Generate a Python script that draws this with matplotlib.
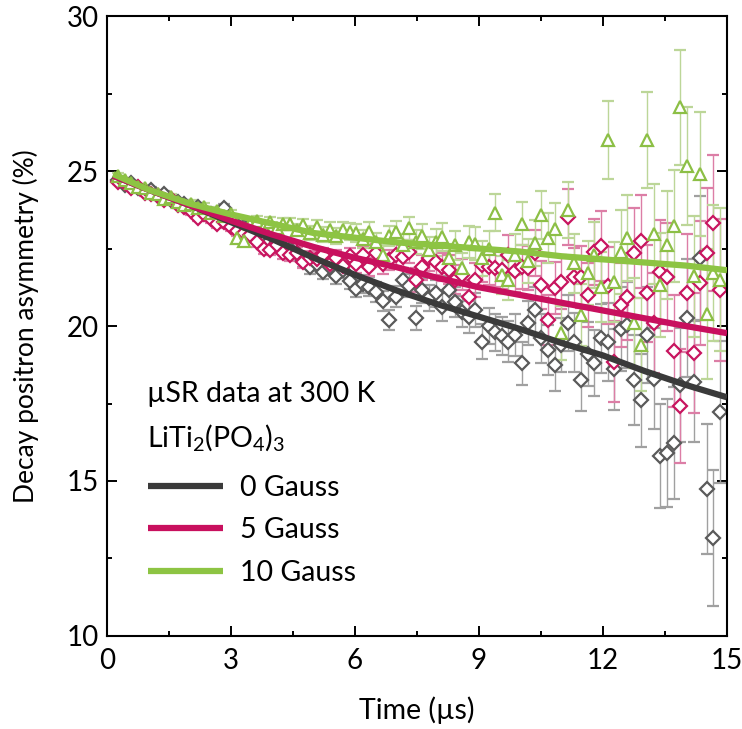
import matplotlib
matplotlib.use("Agg")
import matplotlib.pyplot as plt
from matplotlib.ticker import MultipleLocator

plt.rcParams['font.family'] = ['Lato', 'DejaVu Sans']
plt.rcParams['mathtext.fontset'] = 'custom'
plt.rcParams['mathtext.rm'] = 'Lato'
plt.rcParams['mathtext.it'] = 'Lato:italic'

# time bins (microseconds)
time_us = [0.27, 0.43, 0.59, 0.75, 0.91, 1.07, 1.23, 1.39, 1.55, 1.71,
           1.87, 2.03, 2.19, 2.35, 2.51, 2.67, 2.83, 2.99, 3.15, 3.31,
           3.47, 3.63, 3.79, 3.95, 4.11, 4.27, 4.43, 4.59, 4.75, 4.91,
           5.07, 5.23, 5.39, 5.55, 5.71, 5.87, 6.03, 6.19, 6.35, 6.51,
           6.67, 6.83, 6.99, 7.15, 7.31, 7.47, 7.63, 7.79, 7.95, 8.11,
           8.27, 8.43, 8.59, 8.75, 8.91, 9.07, 9.23, 9.39, 9.55, 9.71,
           9.87, 10.03, 10.19, 10.35, 10.51, 10.67, 10.83, 10.99, 11.15, 11.31,
           11.47, 11.63, 11.79, 11.95, 12.11, 12.27, 12.43, 12.59, 12.75, 12.91,
           13.07, 13.23, 13.39, 13.55, 13.71, 13.87, 14.03, 14.19, 14.35, 14.51,
           14.67, 14.83]

# asymmetry (%) for each field
asym_0G = [24.70, 24.55, 24.60, 24.45, 24.35, 24.40, 24.20, 24.25, 24.05, 24.00,
           23.95, 23.80, 23.85, 23.65, 23.60, 23.50, 23.80, 23.30, 23.25, 23.20,
           23.05, 22.95, 22.90, 22.75, 22.70, 22.55, 22.50, 22.35, 22.10, 21.90,
           22.00, 21.75, 21.90, 21.60, 21.80, 21.45, 21.20, 21.35, 21.27, 21.10,
           20.80, 20.20, 20.95, 21.50, 21.30, 20.25, 21.15, 20.90, 21.05, 20.60,
           21.15, 20.78, 20.46, 20.30, 20.52, 19.50, 20.00, 19.80, 19.68, 19.50,
           19.71, 18.80, 20.10, 20.52, 19.60, 19.23, 18.74, 19.40, 20.10, 19.48,
           18.26, 19.10, 18.80, 19.60, 19.48, 18.60, 19.90, 20.03, 18.26, 17.61,
           19.71, 18.30, 15.80, 15.90, 16.23, 18.10, 20.26, 18.20, 22.19, 14.74,
           13.16, 17.23]

asym_5G = [24.65, 24.60, 24.45, 24.50, 24.30, 24.25, 24.20, 24.05, 24.10, 23.90,
           23.85, 23.70, 23.50, 23.60, 23.45, 23.30, 23.35, 23.20, 23.05, 23.00,
           22.95, 22.70, 22.50, 22.45, 22.60, 22.35, 22.30, 22.35, 22.07, 22.20,
           22.15, 22.30, 22.00, 22.20, 21.95, 22.25, 22.00, 22.30, 21.90, 22.35,
           22.00, 22.13, 22.29, 22.24, 22.40, 21.48, 21.90, 22.18, 22.08, 21.91,
           21.81, 21.50, 21.65, 20.95, 21.48, 21.97, 21.91, 21.86, 21.81, 22.29,
           21.78, 21.91, 21.87, 22.35, 21.32, 20.19, 21.23, 21.42, 23.52, 21.58,
           21.58, 21.00, 22.39, 22.58, 21.30, 18.85, 20.68, 20.94, 22.35, 22.74,
           21.06, 20.10, 21.74, 21.58, 19.19, 17.42, 21.06, 19.13, 21.39, 22.35,
           23.32, 21.16]

asym_10G = [24.85, 24.70, 24.60, 24.50, 24.45, 24.30, 24.25, 24.10, 24.15, 24.00,
            23.90, 23.95, 23.80, 23.85, 23.65, 23.70, 23.55, 23.60, 22.85, 22.75,
            23.30, 23.40, 23.20, 23.35, 23.15, 23.30, 23.30, 23.10, 23.25, 23.00,
            23.20, 22.95, 23.10, 22.90, 23.10, 23.04, 23.00, 22.80, 23.04, 22.70,
            22.29, 22.90, 23.04, 22.60, 23.15, 22.70, 22.90, 22.45, 22.70, 22.88,
            22.18, 22.60, 21.86, 22.72, 22.66, 22.18, 22.50, 23.65, 21.65, 21.48,
            22.30, 23.30, 22.10, 22.68, 23.58, 22.84, 23.13, 19.77, 23.74, 22.03,
            20.35, 21.71, 22.30, 21.26, 26.00, 21.42, 22.39, 22.84, 20.10, 19.39,
            26.00, 22.97, 21.32, 22.61, 23.23, 27.06, 25.16, 21.61, 24.90, 20.39,
            21.71, 21.50]

# statistical uncertainty per bin (%)
asym_err = [0.08, 0.08, 0.08, 0.085, 0.09, 0.09, 0.095, 0.10, 0.10, 0.105,
            0.11, 0.11, 0.115, 0.12, 0.125, 0.13, 0.135, 0.14, 0.145, 0.15,
            0.155, 0.16, 0.17, 0.17, 0.18, 0.19, 0.19, 0.20, 0.21, 0.22,
            0.22, 0.23, 0.24, 0.25, 0.26, 0.27, 0.28, 0.29, 0.30, 0.31,
            0.32, 0.33, 0.35, 0.36, 0.37, 0.39, 0.40, 0.42, 0.43, 0.45,
            0.47, 0.48, 0.50, 0.52, 0.54, 0.56, 0.58, 0.60, 0.62, 0.65,
            0.67, 0.70, 0.72, 0.75, 0.78, 0.81, 0.84, 0.87, 0.91, 0.95,
            0.99, 1.03, 1.07, 1.12, 1.25, 1.30, 1.35, 1.40, 1.45, 1.50,
            1.56, 1.62, 1.68, 1.74, 1.80, 1.85, 1.90, 1.95, 2.00, 2.10,
            2.20, 2.30]

# fitted relaxation curves
fit_t = [0.15, 1, 2, 3, 4, 5, 6, 7, 8, 9, 10, 11, 12, 13, 14, 15]
fit_0G = [24.85, 24.40, 23.90, 23.35, 22.80, 22.20, 21.65, 21.15, 20.70, 20.30,
          19.90, 19.45, 19.05, 18.55, 18.10, 17.70]
fit_5G = [24.85, 24.40, 23.90, 23.40, 22.95, 22.55, 22.20, 21.90, 21.55, 21.25,
          21.00, 20.75, 20.50, 20.25, 20.00, 19.77]
fit_10G = [24.90, 24.40, 23.95, 23.60, 23.30, 23.00, 22.85, 22.70, 22.60, 22.50,
           22.40, 22.25, 22.15, 22.05, 21.95, 21.80]

series = [
    ("0 Gauss", asym_0G, fit_0G, "D", "#5a5a5a", "#a0a0a0", "#3a3a3a"),
    ("5 Gauss", asym_5G, fit_5G, "D", "#c8155f", "#dc7ea6", "#c8105e"),
    ("10 Gauss", asym_10G, fit_10G, "^", "#8cbf45", "#bcd698", "#8dc443"),
]

FS = 20.5

fig = plt.figure(figsize=(7.42, 7.29), dpi=100)
ax = fig.add_axes([0.1442, 0.1276, 0.8356, 0.8504])

for label, y, fit, mk, mcol, ecol, lcol in series:
    ax.errorbar(time_us, y, yerr=asym_err, fmt=mk, ms=7 if mk == "D" else 8,
                mfc="white", mec=mcol, mew=1.6, ecolor=ecol, elinewidth=1.0,
                capsize=4.5, capthick=1.0, zorder=2)

handles = []
for label, y, fit, mk, mcol, ecol, lcol in series:
    h, = ax.plot(fit_t, fit, color=lcol, lw=4.5, solid_capstyle="butt",
                 zorder=3, label=label)
    handles.append(h)

ax.set_xlim(0, 15)
ax.set_ylim(10, 30)
ax.xaxis.set_major_locator(MultipleLocator(3))
ax.xaxis.set_minor_locator(MultipleLocator(1.5))
ax.yaxis.set_major_locator(MultipleLocator(5))
ax.yaxis.set_minor_locator(MultipleLocator(2.5))
ax.tick_params(which="both", direction="in", top=True, right=True,
               width=1.4, labelsize=20)
ax.tick_params(axis="x", pad=9)
ax.tick_params(axis="y", pad=6)
ax.tick_params(which="major", length=7)
ax.tick_params(which="minor", length=3.5)
for s in ax.spines.values():
    s.set_linewidth(1.5)

ax.set_xlabel("Time (µs)", fontsize=FS, labelpad=16)
ax.set_ylabel("Decay positron asymmetry (%)", fontsize=19, labelpad=20)

ax.text(0.0645, 0.377, "µSR data at 300 K", transform=ax.transAxes,
        fontsize=FS, va="baseline", ha="left")
ax.text(0.0645, 0.305, r"LiTi$_\mathrm{2}$(PO$_\mathrm{4}$)$_\mathrm{3}$",
        transform=ax.transAxes, fontsize=FS, va="baseline", ha="left")
ax.legend(handles=handles, loc="upper left", bbox_to_anchor=(0.066, 0.260),
          frameon=False, fontsize=FS, handlelength=2.63, handletextpad=0.6,
          labelspacing=0.58, borderpad=0, borderaxespad=0)

fig.savefig("out.png", dpi=100)
